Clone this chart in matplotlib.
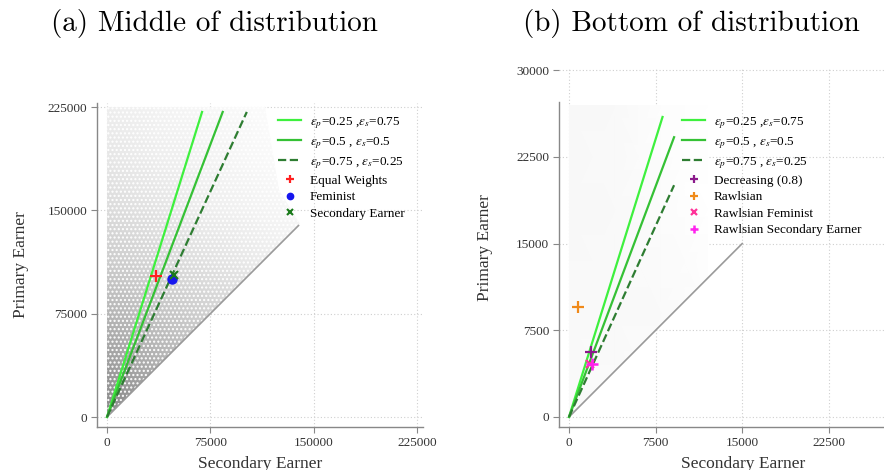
import numpy as np
import matplotlib
matplotlib.use("Agg")
import matplotlib.pyplot as plt
from matplotlib.patches import Polygon

plt.rcParams['mathtext.fontset'] = 'stix'
plt.rcParams['font.family'] = ['Liberation Serif', 'DejaVu Serif']

# ---------------- data: panel (a) middle of distribution ----------------
a_ticks = [0, 75000, 150000, 225000]
a_lines_x = [[0, 69000], [0, 84000], [0, 101500]]
a_lines_y = [[0, 221500], [0, 221500], [0, 221500]]
a_diag = [0, 139000]
a_points = {"Equal Weights": (35300, 102600),
            "Feminist": (47200, 100200),
            "Secondary Earner": (48600, 103000)}
# shading of the household scatter cloud (grey intensity at grid nodes)
a_cloud_x = [0, 35000, 70000, 105000, 140000]
a_cloud_y = [0, 37500, 75000, 112500, 150000, 187500, 225000]
a_cloud_d = [[0.55, 0.52, 0.47, 0.42, 0.37],
             [0.48, 0.42, 0.37, 0.31, 0.26],
             [0.40, 0.35, 0.29, 0.24, 0.18],
             [0.31, 0.26, 0.21, 0.16, 0.12],
             [0.24, 0.19, 0.14, 0.10, 0.06],
             [0.18, 0.14, 0.10, 0.06, 0.03],
             [0.14, 0.10, 0.07, 0.04, 0.02]]
a_cloud_outline_x = [0, 140000, 125000, 115000, 0]
a_cloud_outline_y = [0, 140000, 165000, 225000, 225000]

# ---------------- data: panel (b) bottom of distribution ----------------
b_xticks = [0, 7500, 15000, 22500]
b_yticks = [0, 7500, 15000, 22500, 30000]
b_lines_x = [[0, 8100], [0, 9100], [0, 9100]]
b_lines_y = [[0, 25950], [0, 24200], [0, 20050]]
b_diag = [0, 15000]
b_points = {"Decreasing (0.8)": (1930, 5650),
            "Rawlsian": (780, 9540),
            "Rawlsian Feminist": (1850, 4600),
            "Rawlsian Secondary Earner": (1950, 4620)}
b_cloud_x = [0, 4000, 8000, 12000]
b_cloud_y = [0, 9000, 18000, 27000]
b_cloud_d = [[0.05, 0.04, 0.00, 0.00],
             [0.05, 0.05, 0.04, 0.02],
             [0.06, 0.05, 0.03, 0.00],
             [0.06, 0.05, 0.02, 0.00]]
b_cloud_outline_x = [0, 12000, 12000, 0]
b_cloud_outline_y = [0, 12000, 27000, 27000]

line_labels = [r"$\epsilon_p$=0.25 ,$\epsilon_s$=0.75",
               r"$\epsilon_p$=0.5 , $\epsilon_s$=0.5",
               r"$\epsilon_p$=0.75 , $\epsilon_s$=0.25"]
line_colors = ['#3ef03e', '#35c135', '#2e7d32']
line_styles = ['-', '-', '--']

W, H = 884, 470
fig = plt.figure(figsize=(W / 100, H / 100), dpi=100)


def style_axes(ax, xticks, yticks, ypad):
    ax.set_xticks(xticks)
    ax.set_yticks(yticks)
    ax.set_xticklabels([str(t) for t in xticks])
    ax.set_yticklabels([str(t) for t in yticks])
    for s in ['top', 'right']:
        ax.spines[s].set_visible(False)
    for s in ['left', 'bottom']:
        ax.spines[s].set_color('#888888')
        ax.spines[s].set_linewidth(1.0)
    ax.tick_params(direction='out', length=4, width=0.8, color='#888888',
                   labelsize=9.5, labelcolor='#333333', pad=3)
    ax.grid(True, linestyle=(0, (1, 2)), color='#cfcfcf', linewidth=0.8)
    ax.set_axisbelow(True)
    ax.set_xlabel("Secondary Earner", fontsize=12.5, color='#333333', labelpad=5)
    ax.set_ylabel("Primary Earner", fontsize=12.5, color='#333333', labelpad=ypad)


def cloud(ax, xs, ys, d, ox, oy, hatch=True):
    X, Y = np.meshgrid(xs, ys)
    m = ax.pcolormesh(X, Y, np.array(d), cmap='Greys', vmin=0, vmax=1,
                      shading='gouraud', zorder=1, rasterized=True)
    poly = Polygon(np.column_stack([ox, oy]), closed=True, transform=ax.transData)
    m.set_clip_path(poly)
    if hatch:
        hp = Polygon(np.column_stack([ox, oy]), closed=True, facecolor='none',
                     edgecolor='#ffffff', hatch='....', linewidth=0, zorder=1.5)
        ax.add_patch(hp)


legend_kw = dict(bbox_transform=fig.transFigure, frameon=False, fontsize=9.5,
                 handlelength=1.75, handletextpad=0.65, labelspacing=0.32,
                 borderaxespad=0, borderpad=0, markerscale=0.7, loc='upper left')

# ---------------- panel (a) ----------------
ax1 = fig.add_axes([97 / W, 1 - 427 / H, 326 / W, 324 / H])
ax1.set_xlim(-7260, 229400)
ax1.set_ylim(-7260, 228000)
style_axes(ax1, a_ticks, a_ticks, 13)
cloud(ax1, a_cloud_x, a_cloud_y, a_cloud_d, a_cloud_outline_x, a_cloud_outline_y)
ax1.plot(a_diag, a_diag, color='#9a9a9a', lw=1.2, zorder=2)
for xs, ys, c, ls, lab in zip(a_lines_x, a_lines_y, line_colors, line_styles, line_labels):
    ax1.plot(xs, ys, color=c, ls=ls, lw=1.6, label=lab, zorder=3)
ax1.plot(*a_points["Equal Weights"], marker='+', color='#ff2020', ms=9, mew=1.6,
         ls='none', label="Equal Weights", zorder=4)
ax1.plot(*a_points["Feminist"], marker='o', color='#1515ee', ms=6.5,
         ls='none', label="Feminist", zorder=4)
ax1.plot(*a_points["Secondary Earner"], marker='x', color='#1a7a1a', ms=5.5, mew=1.5,
         ls='none', label="Secondary Earner", zorder=5)
ax1.legend(bbox_to_anchor=(278 / W, 1 - 115 / H), **legend_kw)

# ---------------- panel (b) ----------------
ax2 = fig.add_axes([559 / W, 1 - 427 / H, 368 / W, 358 / H])
ax2.set_xlim(-865, 31000)
ax2.set_ylim(-865, 30100)
style_axes(ax2, b_xticks, b_yticks, 17)
ax2.spines['left'].set_bounds(-865, 27250)
cloud(ax2, b_cloud_x, b_cloud_y, b_cloud_d, b_cloud_outline_x, b_cloud_outline_y,
      hatch=False)
ax2.plot(b_diag, b_diag, color='#9a9a9a', lw=1.2, zorder=2)
for xs, ys, c, ls, lab in zip(b_lines_x, b_lines_y, line_colors, line_styles, line_labels):
    ax2.plot(xs, ys, color=c, ls=ls, lw=1.6, label=lab, zorder=3)
ax2.plot(*b_points["Decreasing (0.8)"], marker='+', color='#8b1a8b', ms=9, mew=1.6,
         ls='none', label="Decreasing (0.8)", zorder=4)
ax2.plot(*b_points["Rawlsian"], marker='+', color='#f08a1a', ms=9, mew=1.6,
         ls='none', label="Rawlsian", zorder=4)
ax2.plot(*b_points["Rawlsian Feminist"], marker='x', color='#ff3399', ms=6, mew=1.6,
         ls='none', label="Rawlsian Feminist", zorder=4)
ax2.plot(*b_points["Rawlsian Secondary Earner"], marker='+', color='#ff22ee', ms=9, mew=1.8,
         ls='none', label="Rawlsian Secondary Earner", zorder=5)
ax2.legend(bbox_to_anchor=(682 / W, 1 - 115 / H), **legend_kw)

# ---------------- titles ----------------
fig.text(214 / W, 1 - 23 / H, "(a) Middle of distribution", ha='center', va='center',
         fontsize=21, family=['cmr10', 'DejaVu Serif'])
fig.text(691 / W, 1 - 23 / H, "(b) Bottom of distribution", ha='center', va='center',
         fontsize=21, family=['cmr10', 'DejaVu Serif'])

fig.savefig("out.png", dpi=100)
